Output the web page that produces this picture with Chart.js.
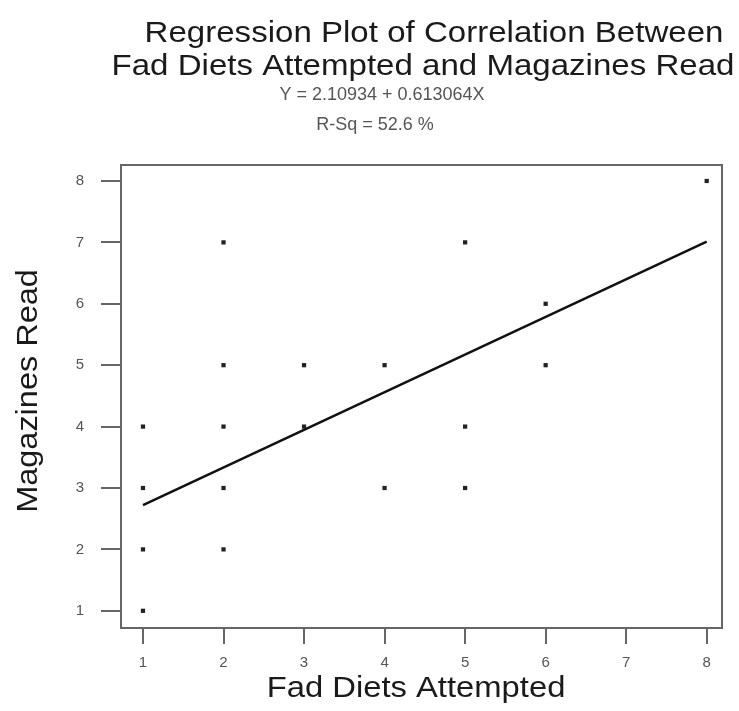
<!DOCTYPE html>
<html lang="en">
<head>
    <meta charset="UTF-8">
    <title>Regression Plot of Correlation Between Fad Diets Attempted and Magazines Read</title>
    <script src="https://cdn.jsdelivr.net/npm/chart.js"></script>
    <style>
        body {
            margin: 0;
            padding: 0;
            background-color: #fff;
        }
        canvas {
            display: block;
        }
    </style>
</head>
<body>
    <canvas id="myChart" width="739" height="711"></canvas>

    <script>
        // Data points (fad diets attempted, magazines read)
        const dietsAttempted = [1, 1, 1, 1, 2, 2, 2, 2, 2, 3, 3, 4, 4, 5, 5, 5, 6, 6, 8];
        const magazinesRead  = [1, 2, 3, 4, 2, 3, 4, 5, 7, 4, 5, 3, 5, 3, 4, 7, 5, 6, 8];

        // Regression line from the fitted equation
        const intercept = 2.10934;
        const slope = 0.613064;
        const lineX = [1, 8];

        const xTicks = [1, 2, 3, 4, 5, 6, 7, 8];
        const yTicks = [1, 2, 3, 4, 5, 6, 7, 8];

        const scatterData = dietsAttempted.map(function(x, i) {
            return { x: x, y: magazinesRead[i] };
        });
        const lineData = lineX.map(function(x) {
            return { x: x, y: intercept + slope * x };
        });

        const font = "'Liberation Sans', Arial, sans-serif";

        // draw text stretched horizontally (the original uses a wide face)
        function wideText(c, text, x, y, stretch) {
            c.save();
            c.translate(x, y);
            c.scale(stretch, 1);
            c.fillText(text, 0, 0);
            c.restore();
        }

        // Title, subtitle, axis titles and frame
        const textPlugin = {
            id: 'textPlugin',
            afterDraw: function(chart) {
                const c = chart.ctx;
                const a = chart.chartArea;
                c.save();
                c.fillStyle = '#1a1a1a';
                c.textAlign = 'center';
                c.textBaseline = 'alphabetic';
                c.font = '29px ' + font;
                wideText(c, 'Regression Plot of Correlation Between', 434, 42, 1.14);
                wideText(c, 'Fad Diets Attempted and Magazines Read', 423, 75, 1.14);

                c.fillStyle = '#555';
                c.font = '18px ' + font;
                c.fillText('Y = 2.10934 + 0.613064X', 382, 100);
                c.fillText('R-Sq = 52.6 %', 375, 130);

                c.fillStyle = '#1a1a1a';
                c.font = '29px ' + font;
                wideText(c, 'Fad Diets Attempted', 416, 697, 1.13);
                c.translate(37, 391);
                c.rotate(-Math.PI / 2);
                wideText(c, 'Magazines Read', 0, 0, 1.12);
                c.restore();

                c.save();
                c.strokeStyle = '#666';
                c.lineWidth = 2;
                c.strokeRect(a.left, a.top, a.right - a.left, a.bottom - a.top);
                c.restore();
            }
        };

        const config = {
            type: 'scatter',
            data: {
                datasets: [
                    {
                        label: 'Observed',
                        data: scatterData,
                        pointStyle: 'rect',
                        pointRadius: 3,
                        backgroundColor: '#222',
                        borderColor: '#222',
                        borderWidth: 0,
                        order: 2
                    },
                    {
                        label: 'Fit',
                        type: 'line',
                        data: lineData,
                        borderColor: '#111',
                        borderWidth: 2.5,
                        pointRadius: 0,
                        fill: false,
                        order: 1
                    }
                ]
            },
            options: {
                responsive: false,
                animation: false,
                layout: {
                    padding: { top: 165, right: 17, bottom: 0, left: 0 }
                },
                plugins: {
                    legend: { display: false },
                    tooltip: { enabled: false },
                    title: { display: false }
                },
                scales: {
                    x: {
                        type: 'linear',
                        min: 0.727,
                        max: 8.19,
                        afterFit: function(scale) { scale.height = 83; },
                        afterBuildTicks: function(scale) {
                            scale.ticks = xTicks.map(function(v) { return { value: v }; });
                        },
                        border: { display: false },
                        grid: {
                            drawOnChartArea: false,
                            drawTicks: true,
                            tickLength: 16,
                            color: '#666',
                            lineWidth: 2
                        },
                        ticks: {
                            color: '#555',
                            font: { family: font, size: 15 },
                            padding: 10,
                            maxRotation: 0
                        }
                    },
                    y: {
                        type: 'linear',
                        min: 0.72,
                        max: 8.26,
                        afterFit: function(scale) { scale.width = 121; },
                        afterBuildTicks: function(scale) {
                            scale.ticks = yTicks.map(function(v) { return { value: v }; });
                        },
                        border: { display: false },
                        grid: {
                            drawOnChartArea: false,
                            drawTicks: true,
                            tickLength: 20,
                            color: '#666',
                            lineWidth: 2
                        },
                        ticks: {
                            color: '#555',
                            font: { family: font, size: 15 },
                            padding: 17
                        }
                    }
                }
            },
            plugins: [textPlugin]
        };

        const ctx = document.getElementById('myChart').getContext('2d');
        const myChart = new Chart(ctx, config);
    </script>
</body>
</html>
